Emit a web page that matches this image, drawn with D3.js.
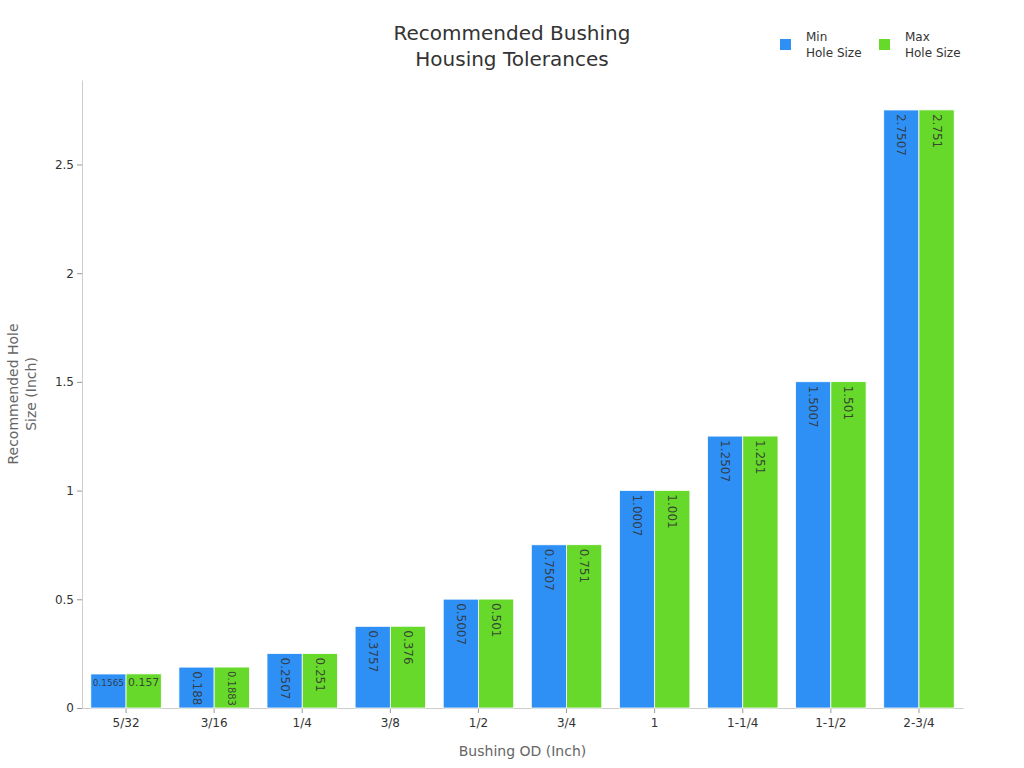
<!DOCTYPE html>
<html><head><meta charset="utf-8">
<script src="https://cdn.jsdelivr.net/npm/d3@7"></script>
<style>body{margin:0;background:#fff;font-family:"DejaVu Sans",sans-serif;}</style>
</head><body><svg id="c" width="1024" height="768"></svg>
<script>
const categories = ["5/32","3/16","1/4","3/8","1/2","3/4","1","1-1/4","1-1/2","2-3/4"];
const minHole = [0.1565,0.188,0.2507,0.3757,0.5007,0.7507,1.0007,1.2507,1.5007,2.7507];
const maxHole = [0.157,0.1883,0.251,0.376,0.501,0.751,1.001,1.251,1.501,2.751];
const seriesNames = ["Min\nHole Size","Max\nHole Size"];
const yTicks = [0,0.5,1,1.5,2,2.5];
const colors = ["#2E90F5","#66D92A"];

const svg = d3.select("#c");
const m = {l:82, r:963, t:80, b:708};
const x = d3.scaleBand().domain(categories).range([m.l,m.r]).paddingInner(0.2).paddingOuter(0.1);
const xs = d3.scaleBand().domain([0,1]).range([0,x.bandwidth()]);
const y = d3.scaleLinear().domain([0,2.751*1.05]).range([m.b,m.t]);

// axes
const ya = svg.append("g").attr("transform",`translate(${m.l},0)`)
  .call(d3.axisLeft(y).tickValues(yTicks).tickFormat(d=>d3.format("")(d)).tickSize(5).tickSizeOuter(0));
ya.select(".domain").attr("stroke","#ccc");
ya.selectAll(".tick line").attr("stroke","#999");
ya.selectAll(".tick text").attr("fill","#333").attr("font-size",12).attr("font-family","DejaVu Sans");
const xa = svg.append("g").attr("transform",`translate(0,${m.b})`)
  .call(d3.axisBottom(x).tickSize(5).tickSizeOuter(0));
xa.select(".domain").attr("stroke","#ccc");
xa.selectAll(".tick line").attr("stroke","#999");
xa.selectAll(".tick text").attr("fill","#333").attr("font-size",12).attr("font-family","DejaVu Sans").attr("dy","0.9em");

const series = [minHole, maxHole];
series.forEach((vals,si)=>{
  const g = svg.append("g");
  g.selectAll("rect").data(vals).join("rect")
    .attr("x",(d,i)=>x(categories[i])+xs(si))
    .attr("y",d=>y(d))
    .attr("width",xs.bandwidth())
    .attr("height",d=>y(0)-y(d))
    .attr("fill",colors[si]).attr("stroke","#fff").attr("stroke-width",0.8);
  vals.forEach((d,i)=>{
    const bx = x(categories[i])+xs(si), bw = xs.bandwidth();
    const by = y(d), bh = y(0)-y(d);
    const t = g.append("text").text(d).attr("font-size",12).attr("fill","#333").attr("fill-opacity",0.9)
      .attr("font-family","DejaVu Sans");
    const len = t.node().getComputedTextLength();
    const rotFs = Math.min(12, 12*(bh-6)/len);
    const horFs = Math.min(12, 12*(bw-4)/len);
    if (rotFs >= 12 || rotFs >= horFs) {
      t.attr("font-size",rotFs).attr("text-anchor","start").attr("dominant-baseline","central")
       .attr("transform",`translate(${bx+bw/2},${by+4}) rotate(90)`);
    } else {
      t.attr("font-size",horFs).attr("text-anchor","middle").attr("dominant-baseline","central")
       .attr("x",bx+bw/2).attr("y",by+Math.min(bh/2, 9));
    }
  });
});

// title
const title = svg.append("text").attr("x",512).attr("text-anchor","middle").attr("fill","#333")
  .attr("font-size",20).attr("font-family","DejaVu Sans");
title.append("tspan").attr("x",512).attr("y",40).text("Recommended Bushing");
title.append("tspan").attr("x",512).attr("y",66).text("Housing Tolerances");

// axis titles
svg.append("text").attr("x",(m.l+m.r)/2).attr("y",756).attr("text-anchor","middle")
  .attr("fill","#666").attr("font-size",14).text("Bushing OD (Inch)");
const yt = svg.append("text").attr("transform","translate(0,394) rotate(-90)").attr("text-anchor","middle")
  .attr("fill","#666").attr("font-size",14);
yt.append("tspan").attr("x",0).attr("y",18).text("Recommended Hole");
yt.append("tspan").attr("x",0).attr("y",36).text("Size (Inch)");

// legend
const lx = [780,879];
seriesNames.forEach((n,i)=>{
  svg.append("rect").attr("x",lx[i]).attr("y",39).attr("width",11).attr("height",11).attr("fill",colors[i]);
  const t = svg.append("text").attr("fill","#333").attr("font-size",12);
  n.split("\n").forEach((s,k)=>t.append("tspan").attr("x",lx[i]+26).attr("y",41+k*16).text(s));
});
</script></body></html>
